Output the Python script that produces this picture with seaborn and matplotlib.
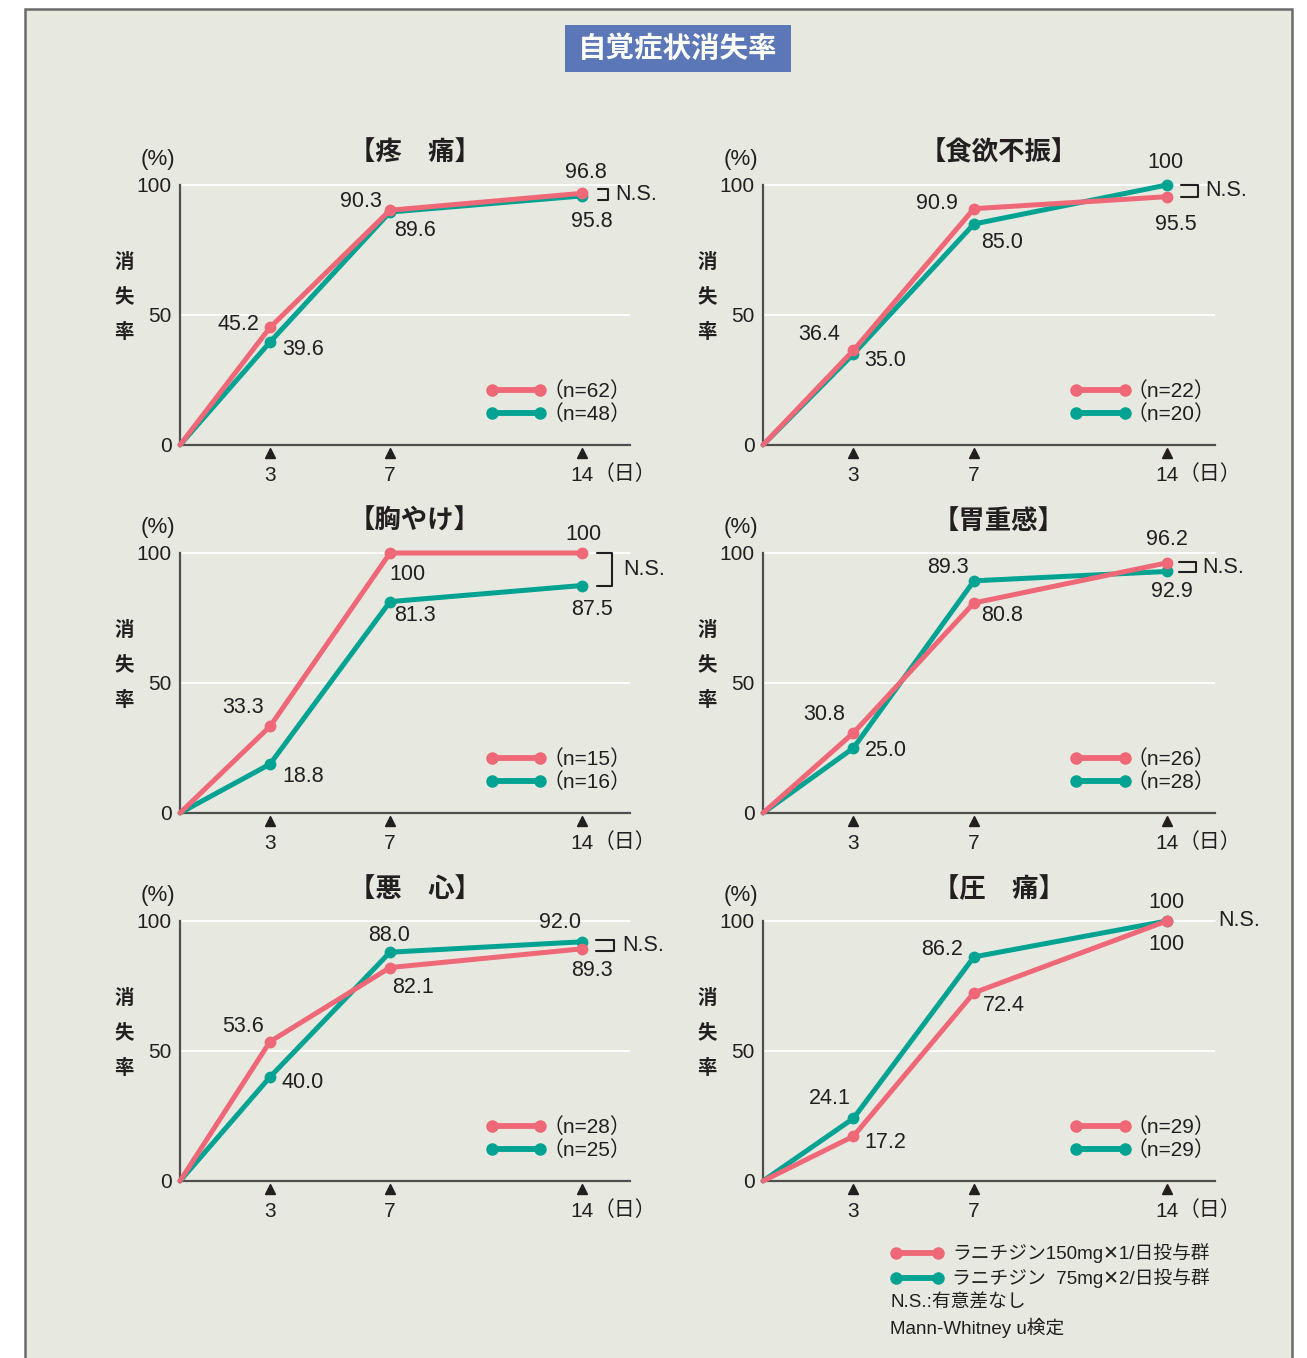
import numpy as np
import pandas as pd
import matplotlib
matplotlib.use("Agg")
import matplotlib.pyplot as plt
import matplotlib.transforms as mtrans
from matplotlib.patches import Rectangle
from matplotlib.lines import Line2D
import seaborn as sns

# ---- data ---------------------------------------------------------------
days = [0, 3, 7, 14]
symptoms = ["【疼　痛】", "【食欲不振】", "【胸やけ】", "【胃重感】", "【悪　心】", "【圧　痛】"]
rate_150x1 = [
    [0, 45.2, 90.3, 96.8],
    [0, 36.4, 90.9, 95.5],
    [0, 33.3, 100, 100],
    [0, 30.8, 80.8, 96.2],
    [0, 53.6, 82.1, 89.3],
    [0, 17.2, 72.4, 100],
]
rate_75x2 = [
    [0, 39.6, 89.6, 95.8],
    [0, 35.0, 85.0, 100],
    [0, 18.8, 81.3, 87.5],
    [0, 25.0, 89.3, 92.9],
    [0, 40.0, 88.0, 92.0],
    [0, 24.1, 86.2, 100],
]
n_150x1 = [62, 22, 15, 26, 28, 29]
n_75x2 = [48, 20, 16, 28, 25, 29]
group_names = ["ラニチジン150mg\u27151/日投与群", "ラニチジン  75mg\u27152/日投与群"]
chart_title = "自覚症状消失率"
y_label_chars = ["消", "失", "率"]

# ---- label placement (pixel offsets from each point, for days 3, 7, 14) --
off_150 = [
    [(-32, 3), (-29, 9), (4, 21)],
    [(-34, 16), (-37, 5), (9, -28)],
    [(-27, 19), (17, -21), (1, 19)],
    [(-29, 18), (28, -13), (0, 23)],
    [(-27, 15), (23, -20), (10, -22)],
    [(32, -6), (30, -13), (0, -23)],
]
off_75 = [
    [(33, -7), (25, -18), (10, -26)],
    [(32, -7), (28, -18), (-1, 22)],
    [(33, -12), (25, -14), (10, -24)],
    [(32, -3), (-26, 13), (5, -20)],
    [(33, -5), (-1, 17), (-22, 19)],
    [(-24, 20), (-32, 7), (0, 19)],
]
# bracket x range (px from axes left), "N.S." left edge (px), bracket kind
ns_layout = [
    (418, 428, 435, "small"),
    (418, 435, 442, "small"),
    (417, 432, 443, "large"),
    (416, 433, 439, "small"),
    (416, 434, 442, "small"),
    (None, None, 455, "none"),
]

PINK = "#ef6878"
TEAL = "#00a392"
BG = "#e7e9e1"
INK = "#231f20"
SPINE = "#4f4f4f"

sns.set_style("white")
plt.rcParams["font.family"] = ["Liberation Sans", "Noto Sans CJK JP", "DejaVu Sans"]
plt.rcParams["axes.facecolor"] = "none"

W, H = 1307, 1358
fig = plt.figure(figsize=(W / 100, H / 100), dpi=100)
fig.patch.set_facecolor("white")

# outer panel
fig.patches.append(Rectangle((25.5 / W, -0.02), (1292 - 25.5) / W, 1.02 - 8.5 / H,
                             transform=fig.transFigure, facecolor=BG,
                             edgecolor="#6a6a6a", linewidth=1.8, zorder=-2))

# headline box
fig.patches.append(Rectangle((565 / W, 1 - 72 / H), 226 / W, 47 / H,
                             transform=fig.transFigure, facecolor="#5b77b8",
                             edgecolor="none", zorder=-1))
fig.text(678 / W, 1 - 49 / H, chart_title, color="white", fontsize=20.5,
         fontweight="bold", ha="center", va="center", zorder=2)


def fwd(x):
    x = np.asarray(x, dtype=float)
    return np.where(x <= 7, x, 7 + (x - 7) * 0.914)


def inv(x):
    x = np.asarray(x, dtype=float)
    return np.where(x <= 7, x, 7 + (x - 7) / 0.914)


col_x = [(180, 450), (763, 452)]
row_y0 = [445, 813, 1181]
AX_H = 260
VAL_FS = 15.5


def fmt(v):
    return "100" if v == 100 else f"{v:.1f}"


for i in range(6):
    r, c = divmod(i, 2)
    x0, wpx = col_x[c]
    ax = fig.add_axes([x0 / W, 1 - row_y0[r] / H, wpx / W, AX_H / H])
    ax.set_xscale("function", functions=(fwd, inv))

    df = pd.DataFrame({
        "day": days * 2,
        "rate": rate_75x2[i] + rate_150x1[i],
        "group": [group_names[1]] * 4 + [group_names[0]] * 4,
    })

    ax.axhline(50, color="white", lw=1.3, zorder=1)
    ax.axhline(100, color="white", lw=1.3, zorder=1, clip_on=False)

    sns.lineplot(data=df, x="day", y="rate", hue="group",
                 hue_order=[group_names[1], group_names[0]],
                 palette={group_names[0]: PINK, group_names[1]: TEAL},
                 linewidth=3.6, marker="o", markersize=8.5, markeredgewidth=0,
                 markevery=[1, 2, 3], errorbar=None, legend=False, ax=ax,
                 zorder=3, clip_on=False, solid_capstyle="round")

    ax.set_xlim(0, 15.75)
    ax.set_ylim(0, 100)
    ax.set_xlabel("")
    ax.set_ylabel("")
    for s in ("top", "right"):
        ax.spines[s].set_visible(False)
    for s in ("left", "bottom"):
        ax.spines[s].set_color(SPINE)
        ax.spines[s].set_linewidth(1.6)

    ax.set_yticks([0, 50, 100])
    ax.set_yticklabels(["0", "50", "100"])
    ax.set_xticks(days[1:])
    ax.set_xticklabels([str(d) for d in days[1:]])
    ax.tick_params(axis="y", length=0, pad=6, labelsize=15, labelcolor=INK)
    ax.tick_params(axis="x", length=0, pad=15, labelsize=15, labelcolor=INK)

    # triangle markers under the axis
    tri = mtrans.blended_transform_factory(ax.transData, ax.transAxes)
    ax.plot(days[1:], [-0.032] * 3, transform=tri, ls="none", marker="^",
            ms=7, color=INK, clip_on=False)
    ax.annotate("（日）", xy=(14, 0), xycoords=("data", "axes fraction"),
                xytext=(43, -29), textcoords="offset pixels",
                ha="center", va="center", fontsize=15, color=INK)

    # titles and axis captions
    ax.annotate(symptoms[i], xy=(wpx * 0.5 + 10, 292), xycoords="axes pixels",
                ha="center", va="center", fontsize=19, fontweight="bold", color=INK)
    ax.annotate("(%)", xy=(-22, 285), xycoords="axes pixels",
                ha="center", va="center", fontsize=16, color=INK)
    for ch, yy in zip(y_label_chars, [183, 148, 113]):
        ax.annotate(ch, xy=(-56, yy), xycoords="axes pixels",
                    ha="center", va="center", fontsize=14, fontweight="bold", color=INK)

    # value labels
    for k, d in enumerate(days[1:]):
        v = rate_150x1[i][k + 1]
        ax.annotate(fmt(v), xy=(d, v), xytext=off_150[i][k], textcoords="offset pixels",
                    ha="center", va="center", fontsize=VAL_FS, color=INK, zorder=5)
        v = rate_75x2[i][k + 1]
        ax.annotate(fmt(v), xy=(d, v), xytext=off_75[i][k], textcoords="offset pixels",
                    ha="center", va="center", fontsize=VAL_FS, color=INK, zorder=5)

    # significance bracket
    bx1, bx2, tx, kind = ns_layout[i]
    a, b = rate_150x1[i][3], rate_75x2[i][3]
    mid = (a + b) / 2
    bt = mtrans.blended_transform_factory(ax.transAxes, ax.transData)
    if kind != "none":
        half = max(abs(a - b) / 2, 2.0)
        ax.plot([bx1 / wpx, bx2 / wpx, bx2 / wpx, bx1 / wpx],
                [mid + half, mid + half, mid - half, mid - half],
                transform=bt, color=INK, lw=1.5, clip_on=False)
    ax.text(tx / wpx, mid, "N.S.", transform=bt, ha="left", va="center",
            fontsize=VAL_FS, color=INK)

    # group key inside the panel
    for yy, col, n in [(0.212, PINK, n_150x1[i]), (0.123, TEAL, n_75x2[i])]:
        ax.plot([0.693, 0.80], [yy, yy], transform=ax.transAxes, color=col,
                lw=4.2, marker="o", ms=9, mew=0, clip_on=False)
        ax.annotate(f"（n={n}）", xy=(0.805, yy), xycoords="axes fraction",
                    xytext=(0, -1.5), textcoords="offset pixels", ha="left",
                    va="center", fontsize=15, color=INK)

# overall key
for yy, col, name in [(1253, PINK, group_names[0]), (1278, TEAL, group_names[1])]:
    fig.add_artist(Line2D([896 / W, 938 / W], [1 - yy / H] * 2, transform=fig.transFigure,
                          color=col, lw=4.2, marker="o", ms=9, mew=0))
    fig.text(952 / W, 1 - yy / H, name, ha="left", va="center", fontsize=13.5, color=INK)
fig.text(890 / W, 1 - 1303 / H, "N.S.:有意差なし", ha="left", va="center",
         fontsize=13.5, color=INK)
fig.text(890 / W, 1 - 1328 / H, "Mann-Whitney u検定", ha="left", va="center",
         fontsize=13.5, color=INK)

fig.savefig("out.png", dpi=100)
